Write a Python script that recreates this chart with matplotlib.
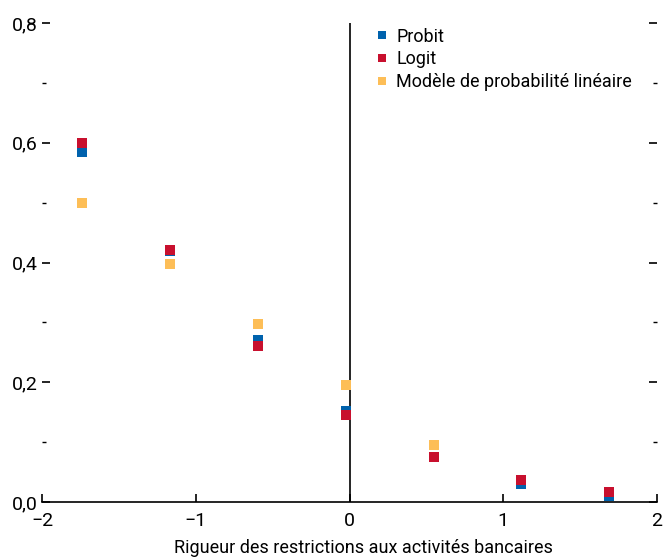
import numpy as np
import matplotlib.pyplot as plt
from matplotlib.ticker import FuncFormatter, MultipleLocator

plt.rcParams['font.family'] = ['Roboto', 'DejaVu Sans']

# data
rigueur = [-1.74, -1.17, -0.595, -0.02, 0.55, 1.115, 1.69]
probit = [0.585, 0.42, 0.271, 0.152, 0.075, 0.030, 0.010]
logit = [0.600, 0.421, 0.261, 0.145, 0.075, 0.037, 0.017]
mpl_lin = [0.499, 0.397, 0.297, 0.195, 0.095, 0.034, 0.014]

blue = '#0062ad'
red = '#c8102e'
yellow = '#fdbe57'

fig = plt.figure(figsize=(6.63, 5.57), dpi=100)
ax = fig.add_axes([0.0633, 0.0987, 0.9277, 0.86])

ax.axvline(0, color='black', lw=1.2, zorder=1)
ms = 7.2
h3 = ax.plot(rigueur, mpl_lin, 's', color=yellow, ms=ms, mew=0, zorder=2, label='Modèle de probabilité linéaire')[0]
h1 = ax.plot(rigueur, probit, 's', color=blue, ms=ms, mew=0, zorder=3, label='Probit')[0]
h2 = ax.plot(rigueur, logit, 's', color=red, ms=ms, mew=0, zorder=4, label='Logit')[0]

ax.set_xlim(-2, 2)
ax.set_ylim(0, 0.8)
ax.xaxis.set_major_locator(MultipleLocator(1))
ax.yaxis.set_major_locator(MultipleLocator(0.2))
ax.yaxis.set_minor_locator(MultipleLocator(0.1))
ax.xaxis.set_major_formatter(FuncFormatter(lambda v, p: ('%d' % round(v)).replace('-', '\u2212')))
ax.yaxis.set_major_formatter(FuncFormatter(lambda v, p: ('%.1f' % v).replace('.', ',')))

for s in ['top', 'left', 'right']:
    ax.spines[s].set_visible(False)
ax.spines['bottom'].set_linewidth(1.2)

ax.tick_params(axis='y', which='major', direction='in', length=6, width=1.2,
               left=True, right=True, labelsize=14, pad=3)
ax.tick_params(axis='y', which='minor', direction='in', length=3, width=1,
               left=True, right=True)
ax.tick_params(axis='x', direction='in', length=6, width=1.2, labelsize=14, pad=7)

ax.set_xlabel('Rigueur des restrictions aux activités bancaires', fontsize=13)
ax.xaxis.set_label_coords(0.523, -0.078)

ax.legend(handles=[h1, h2, h3], loc='upper left', bbox_to_anchor=(0.544, 0.99),
          frameon=False, fontsize=13, handlelength=0.6, handletextpad=0.5,
          labelspacing=0.25, borderaxespad=0, borderpad=0, markerscale=0.85)

fig.savefig('out.png', dpi=100)
